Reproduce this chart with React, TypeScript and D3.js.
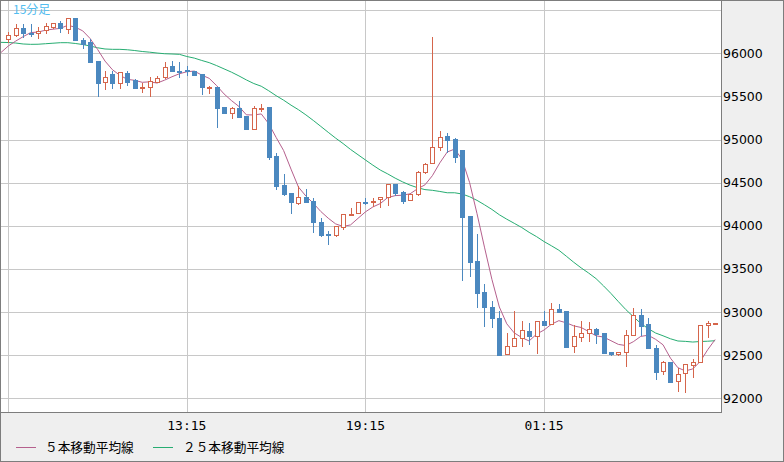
import React from "react";
import * as d3 from "d3";

// 15-minute candles (index 0 = 07:15)
const opens = [96160,96210,96290,96240,96232,96270,96302,96348,96278,96406,96154,96135,95910,95664,95760,95652,95768,95690,95610,95613,95671,95729,95853,95800,95805,95795,95760,95600,95606,95377,95311,95369,95277,95126,95365,95380,94809,94473,94377,94261,94330,94288,94041,93900,93893,93990,94130,94145,94275,94275,94310,94337,94485,94388,94300,94369,94620,94725,94910,95041,95006,94879,94114,93595,93236,93062,92928,92512,92610,92703,92780,92726,92896,92858,93036,93012,92610,92714,92754,92804,92761,92540,92512,92533,92734,92966,92862,92587,92316,92425,92201,92290,92386,92417,92850,92870];
const highs = [96245,96340,96340,96340,96308,96348,96350,96375,96406,96406,96174,96162,95910,95795,95795,95787,95795,95698,95652,95729,95737,95896,95910,95900,95853,95795,95760,95620,95606,95377,95377,95447,95277,95389,95409,95380,94841,94601,94377,94462,94427,94319,94087,93940,93998,94133,94203,94280,94326,94319,94337,94485,94485,94407,94365,94640,94725,96192,95099,95072,95015,94879,94114,93905,93325,93128,93012,92754,93009,92896,92877,92896,93009,93109,93094,93012,92850,92900,92888,92812,92761,92540,92540,92792,93044,93036,92928,92618,92433,92425,92348,92394,92456,92850,92900,92875];
const lows = [96135,96205,96190,96200,96181,96232,96290,96250,96239,96154,96058,95903,95508,95582,95601,95600,95632,95594,95548,95508,95664,95710,95798,95730,95747,95748,95525,95543,95149,95311,95253,95265,95126,95126,95335,94770,94423,94357,94145,94249,94280,93932,93885,93786,93885,93960,94125,94145,94252,94230,94221,94241,94360,94261,94300,94357,94609,94725,94879,94859,94743,93372,93418,93062,92842,92823,92500,92512,92610,92606,92630,92528,92850,92858,92997,92599,92540,92668,92668,92645,92529,92500,92500,92377,92734,92734,92579,92220,92282,92193,92088,92077,92251,92417,92714,92870];
const closes = [96210,96290,96240,96230,96262,96317,96348,96290,96406,96154,96104,95903,95659,95729,95652,95780,95671,95601,95615,95679,95710,95838,95798,95790,95795,95748,95606,95610,95369,95311,95362,95265,95126,95362,95370,94800,94465,94369,94280,94330,94280,94048,93893,93890,93998,94133,94137,94273,94265,94285,94330,94485,94384,94291,94365,94620,94713,94917,95033,94994,94794,94106,93584,93224,93055,92928,92502,92610,92696,92789,92726,92896,92850,93032,92997,92599,92722,92754,92800,92746,92529,92510,92540,92734,92966,92838,92579,92302,92417,92193,92282,92394,92417,92850,92870,92875];

// moving-average values before enough candles are on screen (slot -1 onward)
const ma5Head = [96008, 96085, 96142, 96193, 96240];
const ma25Head = [96127,96125,96119,96108,96104,96105,96111,96117,96123,96123,96114,96102,96085,96064,96050,96046,96046,96041,96032,96021,96013,96003,95995,95992,95988];

const priceTicks = [92000, 92500, 93000, 93500, 94000, 94500, 95000, 95500, 96000, 96500];
const timeTicks = [{ i: 24, label: "13:15" }, { i: 48, label: "19:15" }, { i: 72, label: "01:15" }];
const gridIdx = [0, 24, 48, 72];

const UP = "#d5654b";
const DOWN = "#4b88bf";
const MA5C = "#b5608d";
const MA25C = "#27ad72";

function movingAvg(head: number[], n: number): { i: number; v: number }[] {
  const out: { i: number; v: number }[] = [];
  head.forEach((v, k) => out.push({ i: k - 1, v }));
  for (let i = head.length - 1; i < closes.length; i++) {
    if (i < n - 1) continue;
    out.push({ i, v: d3.mean(closes.slice(i - n + 1, i + 1)) as number });
  }
  return out;
}

export default function App() {
  const W = 784, H = 462;
  const PR = 721, PB = 412;
  const x = d3.scaleLinear().domain([0, 95]).range([8.3, 715.1]);
  const y = d3.scaleLinear().domain([92000, 96000]).range([398.3, 53.3]);
  const ma5 = movingAvg(ma5Head, 5);
  const ma25 = movingAvg(ma25Head, 25);
  const line = d3.line<{ i: number; v: number }>().x(d => x(d.i)).y(d => y(d.v));
  const r = Math.round;

  return (
    <svg width={W} height={H} style={{ position: "absolute", left: 0, top: 0 }} xmlns="http://www.w3.org/2000/svg">
      <defs>
        <clipPath id="plot"><rect x={1} y={1} width={PR - 1} height={PB - 1} /></clipPath>
      </defs>
      <rect x={0} y={0} width={W} height={H} fill="#efefef" />
      <rect x={0.5} y={0.5} width={W - 1} height={H - 1} fill="none" stroke="#7d7d7d" />
      <rect x={0.5} y={0.5} width={PR} height={PB} fill="#ffffff" stroke="#7d7d7d" />
      <g clipPath="url(#plot)" shapeRendering="crispEdges">
        {priceTicks.map(p => (
          <line key={p} x1={0} x2={PR} y1={r(y(p)) + 0.5} y2={r(y(p)) + 0.5} stroke="#c8c8c8" />
        ))}
        {gridIdx.map(i => (
          <line key={i} x1={r(x(i)) + 0.5} x2={r(x(i)) + 0.5} y1={0} y2={PB} stroke="#c8c8c8" />
        ))}
      </g>
      <text x={13} y={14} fontFamily="'Noto Sans CJK JP', sans-serif" fontSize={12} fill="#52bdef">15分足</text>
      <g clipPath="url(#plot)">
        <path d={line(ma25) || ""} fill="none" stroke={MA25C} strokeWidth={1} />
        <path d={line(ma5) || ""} fill="none" stroke={MA5C} strokeWidth={1} />
      </g>
      <g clipPath="url(#plot)" shapeRendering="crispEdges">
        {closes.map((c, i) => {
          const o = opens[i];
          const cx = r(x(i));
          const up = c >= o;
          const col = up ? UP : DOWN;
          const yt = r(y(Math.max(o, c)));
          const yb = r(y(Math.min(o, c)));
          const h = yb - yt;
          return (
            <g key={i}>
              <line x1={cx + 0.5} x2={cx + 0.5} y1={r(y(highs[i]))} y2={r(y(lows[i])) + 1} stroke={col} />
              {up ? (
                h >= 2 ? (
                  <rect x={cx - 2 + 0.5} y={yt + 0.5} width={4} height={h} fill="#ffffff" stroke={col} />
                ) : (
                  <rect x={cx - 2} y={yt} width={5} height={2} fill={col} />
                )
              ) : (
                <rect x={cx - 2} y={yt} width={5} height={Math.max(2, h + 1)} fill={col} />
              )}
            </g>
          );
        })}
      </g>
      {priceTicks.filter(p => p <= 96000).map(p => (
        <text key={p} x={723} y={y(p)} dy="0.36em" fontFamily="'DejaVu Sans', sans-serif" fontSize={12.5} fill="#000">{p}</text>
      ))}
      {timeTicks.map(t => (
        <text key={t.label} x={x(t.i)} y={430} textAnchor="middle" fontFamily="'DejaVu Sans Mono', monospace" fontSize={13} fill="#000">{t.label}</text>
      ))}
      <line x1={16} x2={36} y1={447.5} y2={447.5} stroke={MA5C} />
      <text x={45} y={452} fontFamily="'Noto Sans CJK JP', sans-serif" fontSize={12.7} fill="#000">５本移動平均線</text>
      <line x1={153} x2={173} y1={447.5} y2={447.5} stroke={MA25C} />
      <text x={183} y={452} fontFamily="'Noto Sans CJK JP', sans-serif" fontSize={12.7} fill="#000">２５本移動平均線</text>
    </svg>
  );
}
